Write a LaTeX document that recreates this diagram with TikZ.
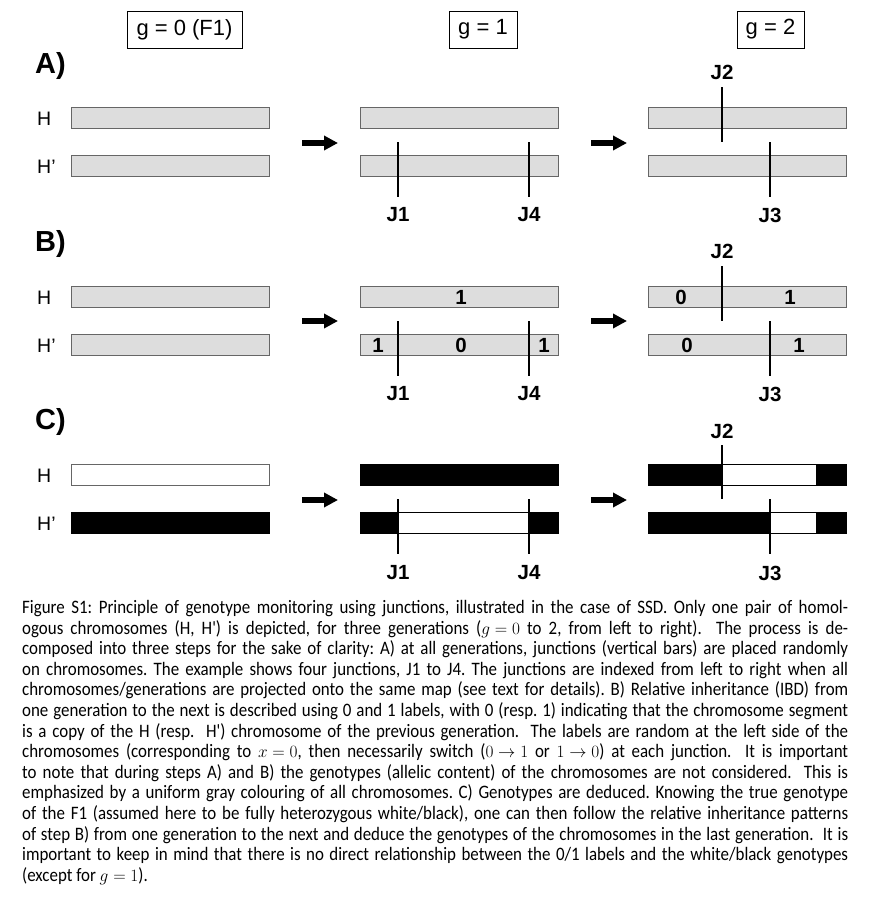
\documentclass[tikz,border=0pt]{standalone}
\usepackage{fontspec}
\setmainfont{Liberation Sans}
\newfontfamily\capfont[FakeStretch=0.89]{Carlito}
\usetikzlibrary{arrows.meta}
\definecolor{bargray}{HTML}{DDDDDD}
\definecolor{bardraw}{HTML}{666666}
\begin{document}
\begin{tikzpicture}[x=1pt,y=-1pt,
  chrom/.style={draw=bardraw, fill=bargray, line width=0.9pt, minimum width=198pt, minimum height=21pt, inner sep=0pt, anchor=north west},
  whitechrom/.style={chrom, fill=white},
  blackchrom/.style={chrom, draw=black, fill=black},
  hdr/.style={draw=black, line width=0.7pt, minimum height=37pt, inner sep=0pt, font=\fontsize{22}{24}\selectfont},
  panel/.style={anchor=west, inner sep=0pt, font=\fontsize{29}{31}\bfseries\selectfont},
  hlab/.style={anchor=west, inner sep=0pt, font=\fontsize{19.5}{21}\selectfont},
  jlab/.style={inner sep=0pt, font=\fontsize{20.5}{22}\bfseries\selectfont},
  dig/.style={inner sep=0pt, font=\fontsize{20.5}{22}\bfseries\selectfont},
  junc/.style={line width=2pt, black},
  bigarrow/.style={line width=5.5pt, -{Triangle[length=14pt,width=14pt]}},
  blk/.style={fill=black, draw=black, line width=0.8pt},
  wht/.style={fill=white, draw=black, line width=0.8pt}
]
\useasboundingbox (0,0) rectangle (887,897);

% headers
\node[hdr, minimum width=115pt] (g0) at (184.5,29.5) {g = 0 (F1)};
\node[hdr, minimum width=68pt] (g1) at (483,29.5) {g = 1};
\node[hdr, minimum width=67pt] (g2) at (770.5,29.5) {g = 2};

% ================= Panel A =================
\node[panel] (pA) at (35,66) {A)};
\node[hlab] (hA) at (37,119) {H};
\node[hlab] (hpA) at (37,167) {H’};
\node[chrom] (A1H) at (71,107) {};
\node[chrom] (A1Hp) at (71,155) {};
\node[chrom] (A2H) at (360,107) {};
\node[chrom] (A2Hp) at (360,155) {};
\node[chrom] (A3H) at (648,107) {};
\node[chrom] (A3Hp) at (648,155) {};
\coordinate (aA1) at (302,143); \coordinate (aA1e) at (338,143);
\coordinate (aA2) at (591,143); \coordinate (aA2e) at (627,143);
\draw[bigarrow] (aA1) -- (aA1e);
\draw[bigarrow] (aA2) -- (aA2e);
\draw[junc] (398,142) -- (398,197);
\draw[junc] (529,142) -- (529,197);
\draw[junc] (722,87) -- (722,142);
\draw[junc] (770,142) -- (770,197);
\node[jlab] (jA1) at (398,215) {J1};
\node[jlab] (jA4) at (529,215) {J4};
\node[jlab] (jA2) at (722,72) {J2};
\node[jlab] (jA3) at (770,215) {J3};

% ================= Panel B =================
\node[panel] (pB) at (35,244) {B)};
\node[hlab] (hB) at (37,298) {H};
\node[hlab] (hpB) at (37,346) {H’};
\node[chrom] (B1H) at (71,286) {};
\node[chrom] (B1Hp) at (71,334) {};
\node[chrom] (B2H) at (360,286) {};
\node[chrom] (B2Hp) at (360,334) {};
\node[chrom] (B3H) at (648,286) {};
\node[chrom] (B3Hp) at (648,334) {};
\coordinate (aB1) at (302,321); \coordinate (aB1e) at (338,321);
\coordinate (aB2) at (591,321); \coordinate (aB2e) at (627,321);
\draw[bigarrow] (aB1) -- (aB1e);
\draw[bigarrow] (aB2) -- (aB2e);
\draw[junc] (398,321) -- (398,376);
\draw[junc] (529,321) -- (529,376);
\draw[junc] (722,266) -- (722,321);
\draw[junc] (770,321) -- (770,376);
\node[jlab] (jB1) at (398,394) {J1};
\node[jlab] (jB4) at (529,394) {J4};
\node[jlab] (jB2) at (722,251) {J2};
\node[jlab] (jB3) at (770,394) {J3};
\node[dig] (d1) at (461,297) {1};
\node[dig] (d2) at (378,345) {1};
\node[dig] (d3) at (461,345) {0};
\node[dig] (d4) at (544,345) {1};
\node[dig] (d5) at (681,297) {0};
\node[dig] (d6) at (790,297) {1};
\node[dig] (d7) at (687,345) {0};
\node[dig] (d8) at (799,345) {1};

% ================= Panel C =================
\node[panel] (pC) at (35,422) {C)};
\node[hlab] (hC) at (37,476) {H};
\node[hlab] (hpC) at (37,524) {H’};
\node[whitechrom] (C1H) at (71,464) {};
\node[blackchrom] (C1Hp) at (71,512) {};
\node[blackchrom] (C2H) at (360,464) {};
% g=1 H'
\draw[blk] (360,512) rectangle (398,533);
\draw[wht] (398,512) rectangle (529,533);
\draw[blk] (529,512) rectangle (558,533);
% g=2 H
\draw[blk] (648,464) rectangle (722,485);
\draw[wht] (722,464) rectangle (816,485);
\draw[blk] (816,464) rectangle (846,485);
% g=2 H'
\draw[blk] (648,512) rectangle (770,533);
\draw[wht] (770,512) rectangle (816,533);
\draw[blk] (816,512) rectangle (846,533);
\coordinate (aC1) at (302,500); \coordinate (aC1e) at (338,500);
\coordinate (aC2) at (591,500); \coordinate (aC2e) at (627,500);
\draw[bigarrow] (aC1) -- (aC1e);
\draw[bigarrow] (aC2) -- (aC2e);
\draw[junc] (398,499) -- (398,554);
\draw[junc] (529,499) -- (529,554);
\draw[junc] (722,445) -- (722,499);
\draw[junc] (770,499) -- (770,554);
\node[jlab] (jC1) at (398,573) {J1};
\node[jlab] (jC4) at (529,573) {J4};
\node[jlab] (jC2) at (722,431) {J2};
\node[jlab] (jC3) at (770,573) {J3};

% ================= Caption =================
\node[anchor=north west, inner sep=0pt, text width=826pt, align=justify,
      font=\capfont\fontsize{19}{20.6}\selectfont] (cap) at (22,600) {\frenchspacing
\thickmuskip=5mu\medmuskip=4mu
Figure S1: Principle of genotype monitoring using junctions, illustrated in the case of SSD. Only one pair of homol-\linebreak
ogous chromosomes (H, H') is depicted, for three generations ($g=0$ to 2, from left to right).\ \ The process is de-\linebreak
composed into three steps for the sake of clarity: A) at all generations, junctions (vertical bars) are placed randomly\linebreak
on chromosomes. The example shows four junctions, J1 to J4. The junctions are indexed from left to right when all\linebreak
chromosomes/generations are projected onto the same map (see text for details). B) Relative inheritance (IBD) from\linebreak
one generation to the next is described using 0 and 1 labels, with 0 (resp. 1) indicating that the chromosome segment\linebreak
is a copy of the H (resp.\ \ H') chromosome of the previous generation.\ \ The labels are random at the left side of the\linebreak
chromosomes (corresponding to $x=0$, then necessarily switch ($0\to1$ or $1\to0$) at each junction.\ \ It is important\linebreak
to note that during steps A) and B) the genotypes (allelic content) of the chromosomes are not considered.\ \ This is\linebreak
emphasized by a uniform gray colouring of all chromosomes. C) Genotypes are deduced. Knowing the true genotype\linebreak
of the F1 (assumed here to be fully heterozygous white/black), one can then follow the relative inheritance patterns\linebreak
of step B) from one generation to the next and deduce the genotypes of the chromosomes in the last generation.\ \ It is\linebreak
important to keep in mind that there is no direct relationship between the 0/1 labels and the white/black genotypes\linebreak
(except for $g=1$).};
\end{tikzpicture}
\end{document}
